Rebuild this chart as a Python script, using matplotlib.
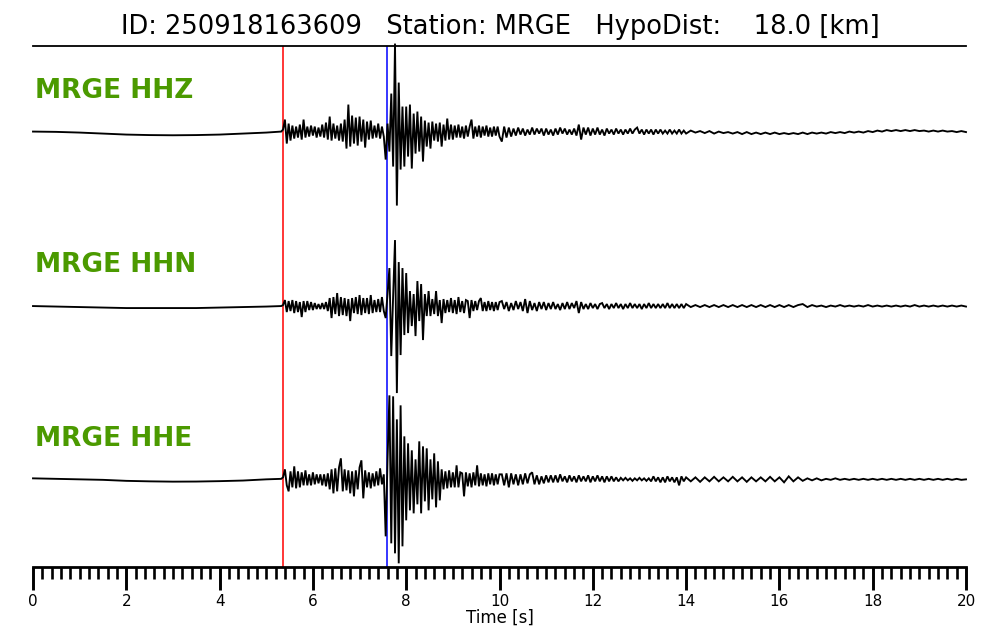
import numpy as np
import matplotlib
matplotlib.use('Agg')
import matplotlib.pyplot as plt
from matplotlib.ticker import MultipleLocator

# ---------------- data (amplitudes, arbitrary units) ----------------
title_text = "ID: 250918163609   Station: MRGE   HypoDist:    18.0 [km]"
channels = ["MRGE HHZ", "MRGE HHN", "MRGE HHE"]
p_pick = 5.36   # red line [s]
s_pick = 7.59   # blue line [s]

# pre-event part (slow drift)
pre_t = [0, 0.5, 1.0, 1.5, 2.0, 2.5, 3.0, 3.5, 4.0, 4.5, 5.0, 5.32]
pre_hhz = [0, -0.3, -1, -2, -3, -3.5, -3.7, -3.5, -3, -2, -1, 0]
pre_hhn = [0, -0.5, -1, -1.5, -2, -2, -2, -2, -1.5, -1, -0.5, 0]
pre_hhe = [1, 0.5, 0, -0.5, -1.5, -2, -2.3, -2.2, -1.8, -1.2, 0, 0.5]

# strong-motion part, 5.36 s .. 10.0 s
dense_span = (5.36, 10.0)
dense_hhz = [2, 12, -12, 8, -9, 6, -7, 5, -6, 7,
             -8, 12, -6, 5, -5, 6, -4, 5, -6, 4,
             -5, 7, -6, 9, -8, 15, -9, 8, -7, 6,
             -9, 8, -10, 12, -17, 27, -15, 16, -12, 14,
             -14, 15, -10, 12, -16, 10, -8, 11, -7, 6,
             -6, 8, -7, 5, -5, -28, 8, -20, 38, -35,
             88, -74, 49, -38, 25, -35, 25, -25, 27, -37,
             18, -22, 20, -20, 15, -30, 11, -15, 9, -17,
             10, -9, 8, -10, 9, -15, 7, -9, 13, -8,
             7, -8, 6, -6, 7, -6, 5, -7, 6, -5,
             5, 12, -7, 5, -5, 6, -6, 5, -4, 6,
             -5, 4, -5, 5, -4, 5, -5]
dense_hhn = [1, 6, -6, 5, -5, 6, -7, 5, -6, 4,
             -11, 5, -6, 5, -4, 4, -4, 3, -3, 2,
             -3, 3, -3, 4, -5, 8, -12, 9, -8, 13,
             -10, 9, -9, 8, -10, 7, -15, 8, -7, 9,
             -8, 11, -9, 8, -7, 8, -8, 11, -7, 6,
             -6, 7, -6, 9, -5, -12, 12, 38, -50, 10,
             66, -87, 44, -49, 38, -29, 33, -27, 15, -20,
             12, -30, 25, -15, 22, -34, 12, -10, 15, -10,
             7, -8, 15, -10, 6, -17, 7, -7, 6, -6,
             8, -7, 6, -8, 9, -6, 5, -7, 6, 5,
             -12, 6, -5, 5, -4, 5, 8, -5, 4, -5,
             5, -4, 4, -5, 4, -4, 4]
dense_hhe = [2, 10, -6, -12, 8, -8, 13, -9, 8, -8,
             7, -6, 9, -6, 5, -6, 7, -5, 5, -4,
             5, -6, 5, -7, 6, -10, 10, -14, 11, -12,
             12, 21, -12, 10, -11, 9, -14, 8, -17, 9,
             -10, 12, 19, -19, 9, -8, 7, -9, 6, -7,
             8, -6, 11, -5, 5, -57, 20, 84, -64, 83,
             -74, 60, -84, 74, -67, 43, -41, 36, -31, 29,
             -34, 20, -25, 38, -34, 33, -22, 31, -31, 20,
             -20, 26, -28, 18, -21, 10, -10, 8, -9, 9,
             -8, 7, -8, 14, -8, 7, 6, -17, 7, -7,
             6, -8, 7, -6, 14, -7, 6, -6, 5, -7,
             6, -5, 6, -6, 5, -5, 5]

# early coda, 10.0 s .. 14.0 s
coda1_span = (10.0, 14.0)
coda1_hhz = [3, -10, 5, -6, 4, -5, 3, -4, 4, -3,
             3, -4, 2, -3, 4, -3, 3, -2, 3, -4,
             3, -3, 2, -4, 3, -3, 4, -2, 3, -3,
             2, -3, 3, -4, 7, -8, 4, -3, 4, -4,
             3, -3, 4, -3, 2, -4, 3, -2, 2, -3,
             3, -2, 2, -3, 2, -2, 3, -2, 2, 4,
             -2, 2, -3, 2, -2, 2, -3, 2, -2, 2,
             -2, 1, -2, 2, -2, 1, -2, 2, -2, 1, -2]
coda1_hhn = [-4, 5, -3, 4, -5, 3, -4, 5, -3, 4,
             -5, 7, -7, 5, -4, 3, -5, 4, -3, 4,
             -4, 3, -3, 4, -3, 2, -4, 3, -3, 4,
             -3, 3, -2, 5, -7, 4, -3, 2, -3, 3,
             -2, 2, -3, 2, 3, -2, 2, -3, 2, -2,
             3, -2, 2, -3, 2, -2, 3, -2, 2, -2,
             2, -3, 2, -2, 3, -2, 2, -2, 2, -2,
             2, -2, 3, -2, 2, -2, 2, -2, 2, -2, 2]
coda1_hhe = [-5, 5, -6, 6, -8, 6, -5, 5, -6, 5,
             -5, 6, -4, 5, 7, -5, 4, -5, 3, -4,
             4, -3, 4, -3, 4, -3, 5, -2, 3, -3,
             4, -2, 3, -3, 4, -2, 3, -2, 4, -3,
             3, -2, 4, -2, 3, -3, 3, -2, 3, -2,
             2, -2, 1.5, -1, 1.5, -1, 1, -1.5, 1, -1,
             1.5, -1, 1, -1.5, 1, -2, 3, -2, 2, -3,
             2, -3, 3, -2, 2, -3, 2, -6, 3, -2, 2]

# late coda, 14.1 s .. 20.0 s
coda2_span = (14.1, 20.0)
coda2_hhz = [1, -1, 0.5, -1.5, 0.5, -2, 0, -1.5, -0.5, -2,
             -0.5, -2.5, -0.5, -2.5, -1, -2.5, -1, -2.5, -1, -2.5,
             -1.5, -2.5, -1.5, -2.5, -1, -2.5, -1, -2, -1, -2,
             -0.5, -1.5, -0.5, -1.5, 0, -1, 0, -1, 0.5, -0.5,
             1, 0, 1.5, 0.5, 1.5, 0.5, 1.5, 0.5, 1.5, 0.5,
             1, 0, 1, 0, 1, 0, 0.5, -0.5, 0.5, -0.5]
coda2_hhn = [-1, 1, -1, 1, -1, 1, -1, 1, -1, 1,
             -1, 1, -1, 1, -1, 1, -1, 1, -1, 1,
             -1, 1, -1, 1, 2, -1, 1, -0.5, 0.5, -1,
             0.5, -0.5, 1, -0.5, 0.5, -0.5, 0.5, -0.5, 1, -0.5,
             0.5, -0.5, 0.5, -0.5, 0.5, -0.5, 0.5, -0.5, 1, -0.5,
             0.5, -0.5, 0.5, -0.5, 0.5, -0.5, 0.5, -0.5, 0.5, -0.5]
coda2_hhe = [-2, 2, -2.5, 2, -2, 2.5, -2, 2, -2, 2.5,
             -2, 2, -2.5, 2, -2, 2, -2, 2.5, -2, 2,
             -3, 3, -2, 2, -1.5, 1, -1, 1, -1, 0.5,
             -0.5, 1, -0.5, 0.5, -0.5, 0.5, -0.5, 0.5, -0.5, 0.5,
             -0.5, 0.5, -0.5, 0.5, -0.5, 0.5, -0.5, 0.5, -0.5, 0.5,
             -0.5, 0.5, -0.5, 0.5, -0.5, 0.5, -0.5, 0.5, -0.5, 0]

traces = [(pre_hhz, dense_hhz, coda1_hhz, coda2_hhz),
          (pre_hhn, dense_hhn, coda1_hhn, coda2_hhn),
          (pre_hhe, dense_hhe, coda1_hhe, coda2_hhe)]

# ---------------- layout / style ----------------
baselines = [131.5, 306.0, 479.3]   # vertical position of each trace (axis units, inverted)
label_rows = [91, 265, 439]
green = '#4b9a00'

fig = plt.figure(figsize=(10, 6.4), dpi=100)
ax = fig.add_axes([0.033, 0.114, 0.933, 0.814])

for (pre, dense, c1, c2), base in zip(traces, baselines):
    t = np.concatenate([np.asarray(pre_t, float),
                        np.linspace(*dense_span, len(dense)),
                        np.linspace(*coda1_span, len(c1))[1:],
                        np.linspace(*coda2_span, len(c2))])
    a = np.concatenate([pre, dense, c1[1:], c2]).astype(float)
    ax.plot(t, base - a, color='black', lw=1.35, clip_on=False, zorder=3,
            solid_joinstyle='miter')

for name, row in zip(channels, label_rows):
    ax.text(0.04, row, name, color=green, fontsize=19, fontweight='bold',
            ha='left', va='center')

ax.axvline(p_pick, color='red', lw=1.1, zorder=2)
ax.axvline(s_pick, color='blue', lw=1.1, zorder=2)

ax.set_xlim(0, 20)
ax.set_ylim(567, 46)
ax.set_yticks([])
for s in ['left', 'right']:
    ax.spines[s].set_visible(False)
ax.spines['top'].set_linewidth(1.3)
ax.spines['bottom'].set_linewidth(2.0)

ax.xaxis.set_major_locator(MultipleLocator(2))
ax.xaxis.set_minor_locator(MultipleLocator(0.2))
ax.tick_params(axis='x', which='major', direction='out', length=16.5, width=2.1,
               labelsize=11, pad=3)
ax.tick_params(axis='x', which='minor', direction='out', length=8.5, width=1.9)
ax.set_xlabel('Time [s]', fontsize=12, labelpad=0)

fig.text(0.5, 1 - 27 / 640, title_text, ha='center', va='center', fontsize=18.5)

fig.savefig('out.png', dpi=100)
